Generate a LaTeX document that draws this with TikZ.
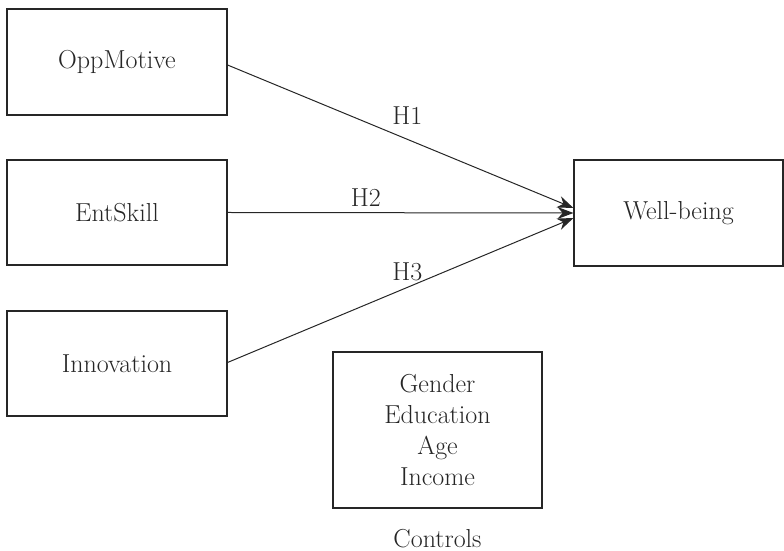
\documentclass[tikz,border=0pt]{standalone}
\usetikzlibrary{arrows.meta}
\begin{document}
\begin{tikzpicture}[x=1pt,y=1pt,
  box/.style={draw=black!85,line width=1.1pt,fill=white,inner sep=0pt},
  lbl/.style={font=\fontsize{26}{31}\selectfont,text=black!85},
  link/.style={draw=black!85,line width=1pt,-{Stealth[length=16pt,width=12pt]}}]
  \useasboundingbox (0,0) rectangle (784,551);
  % predictor boxes
  \node[box,minimum width=220pt,minimum height=106pt] (opp) at (117,489) {};
  \node[lbl] at (opp) {OppMotive};
  \node[box,minimum width=220pt,minimum height=105pt] (ent) at (117,338.5) {};
  \node[lbl] at (ent) {EntSkill};
  \node[box,minimum width=220pt,minimum height=105pt] (inn) at (117,187.5) {};
  \node[lbl] at (inn) {Innovation};
  % outcome box
  \node[box,minimum width=209pt,minimum height=106pt] (wb) at (678.5,338) {};
  \node[lbl] at (wb) {Well-being};
  % control variables
  \node[box,minimum width=209pt,minimum height=156pt] (ctl) at (437.5,121) {};
  \node[lbl,align=center] at (ctl) {Gender\\Education\\Age\\Income};
  \node[lbl,inner sep=0pt,text depth=0pt] (ctlname) at (437.5,13) {Controls};
  % hypothesised paths
  \coordinate (wb1) at ([yshift=5pt]wb.west);
  \coordinate (wb3) at ([yshift=-5pt]wb.west);
  \draw[link] ([yshift=-3pt]opp.east) -- (wb1) node[lbl,pos=0.52,above=11pt] {H1};
  \draw[link] (ent.east) -- (wb.west) node[lbl,pos=0.4,above=2pt] {H2};
  \draw[link] ([yshift=1pt]inn.east) -- (wb3) node[lbl,pos=0.52,above=3pt] {H3};
\end{tikzpicture}
\end{document}
